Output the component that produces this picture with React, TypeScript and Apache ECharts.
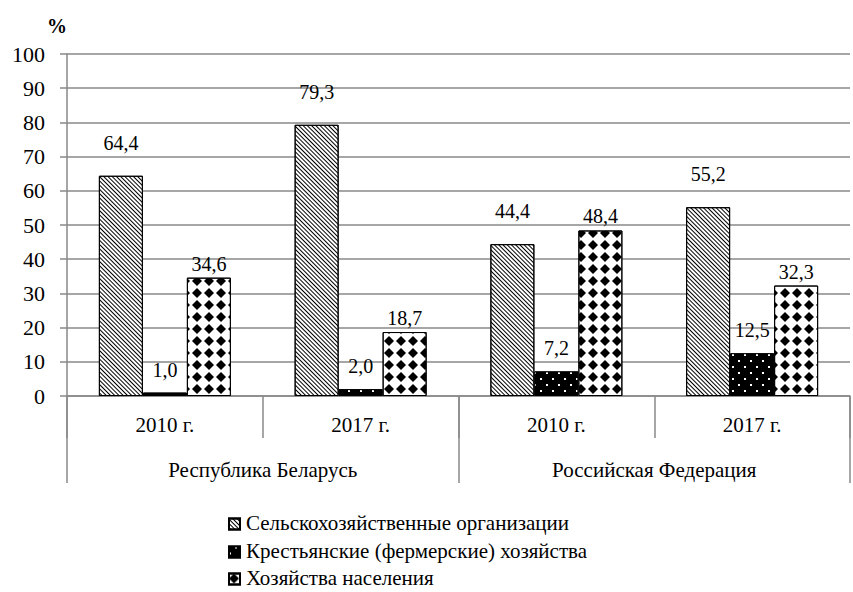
import React, { useEffect, useRef } from "react";
import * as echarts from "echarts";

const yearLabels = ["2010 г.", "2017 г.", "2010 г.", "2017 г."];
const countryLabels = ["Республика Беларусь", "Российская Федерация"];
const seriesNames = [
  "Сельскохозяйственные организации",
  "Крестьянские (фермерские) хозяйства",
  "Хозяйства населения",
];
const agriOrgs = [64.4, 79.3, 44.4, 55.2];
const farms = [1.0, 2.0, 7.2, 12.5];
const households = [34.6, 18.7, 48.4, 32.3];
const yTickValues = [0, 10, 20, 30, 40, 50, 60, 70, 80, 90, 100];
const yUnit = "%";

const FONT = "Liberation Serif";
const BAR_W = 44;

export default function App() {
  const ref = useRef<HTMLDivElement>(null);

  useEffect(() => {
    if (!ref.current) return;
    const chart = echarts.init(ref.current, null, { renderer: "svg" });
    const styles = [
      {
        color: "#fff",
        decal: {
          symbol: "rect",
          symbolSize: 1,
          color: "#000",
          dashArrayX: [1, 0],
          dashArrayY: [1, 2],
          rotation: Math.PI / 4,
        },
      },
      {
        color: "#000",
        decal: {
          symbol: "rect",
          symbolSize: 1,
          color: "#fff",
          dashArrayX: [[2, 10], [0, 6, 2, 4]],
          dashArrayY: [2, 4],
          rotation: 0,
        },
      },
      {
        color: "#fff",
        decal: {
          symbol: "diamond",
          symbolSize: 1,
          color: "#000",
          dashArrayX: [10, 2],
          dashArrayY: [10, 2],
          rotation: 0,
        },
      },
    ];
    const values = [agriOrgs, farms, households];
    const labelOffsets = [33, 23, 14];
    const legendCenters = [523, 551, 578];

    const series = values.map((vals, i) => ({
      name: seriesNames[i],
      type: "bar",
      xAxisIndex: 0,
      yAxisIndex: 0,
      barWidth: BAR_W,
      barGap: "0%",
      data: vals,
      itemStyle: {
        color: styles[i].color,
        decal: styles[i].decal,
        borderColor: "#000",
        borderWidth: 1,
      },
      label: { show: false },
    }));

    const grey = { color: "#888", width: 1.5 };

    chart.setOption({
      animation: false,
      backgroundColor: "#fff",
      aria: { enabled: true, decal: { show: true } },
      grid: { left: 67, right: 3, top: 54, bottom: 196, containLabel: false },
      legend: seriesNames.map((n, i) => ({
        data: [n],
        orient: "vertical",
        left: 228,
        top: legendCenters[i] - 5.5,
        padding: 0,
        itemWidth: 11,
        itemHeight: 11,
        icon: "rect",
        selectedMode: false,
        formatter: () => "",
        textStyle: { fontSize: 1, lineHeight: 1, padding: 0 },
      })),
      xAxis: [
        {
          type: "category",
          data: yearLabels,
          position: "bottom",
          axisLine: { show: true, lineStyle: grey },
          axisTick: { show: true, length: 42, interval: 0, lineStyle: grey },
          axisLabel: { show: false },
          splitLine: { show: false },
        },
        {
          type: "category",
          data: countryLabels,
          position: "bottom",
          axisLine: { show: false },
          axisTick: { show: true, length: 87, interval: 0, lineStyle: grey },
          axisLabel: { show: false },
          splitLine: { show: false },
        },
      ],
      yAxis: {
        type: "value",
        min: yTickValues[0],
        max: yTickValues[yTickValues.length - 1],
        interval: yTickValues[1] - yTickValues[0],
        axisLine: { show: true, lineStyle: grey },
        axisTick: { show: true, length: 7, inside: false, lineStyle: grey },
        axisLabel: { show: false },
        splitLine: { show: true, lineStyle: grey },
      },
      series,
    });

    const yPx = (v: number) => chart.convertToPixel({ yAxisIndex: 0 }, v) as unknown as number;
    const xCat = (i: number) => chart.convertToPixel({ xAxisIndex: 0 }, i) as unknown as number;
    const xGroup = (i: number) => chart.convertToPixel({ xAxisIndex: 1 }, i) as unknown as number;

    const band = xCat(1) - xCat(0);
    const axisX = xCat(0) - band / 2;
    const axisY = yPx(0);

    const mk = (
      text: string,
      x: number,
      y: number,
      size: number,
      align: string,
      extra: any = {}
    ) => ({
      type: "text",
      x,
      y,
      silent: true,
      style: {
        text,
        x: 0,
        y: 0,
        fontFamily: FONT,
        fontSize: size,
        fill: "#000",
        align,
        verticalAlign: "middle",
        ...extra,
      },
    });

    const elements: any[] = [];
    elements.push(mk(yUnit, 57, 26, 20, "center", { fontWeight: "bold" }));
    yTickValues.forEach((v) => {
      elements.push(mk(String(v), axisX - 22, yPx(v), 22, "right"));
    });
    yearLabels.forEach((t, i) => {
      elements.push(mk(t, xCat(i), axisY + 29, 21, "center"));
    });
    countryLabels.forEach((t, i) => {
      elements.push(mk(t, xGroup(i), axisY + 74, 21, "center"));
    });
    values.forEach((vals, s) => {
      vals.forEach((v, j) => {
        const x = xCat(j) + (s - 1) * BAR_W;
        const y = yPx(v) - labelOffsets[s];
        elements.push(mk(v.toFixed(1).replace(".", ","), x, y, 20, "center"));
      });
    });
    seriesNames.forEach((n, i) => {
      elements.push(mk(n, 246, legendCenters[i], 21, "left"));
    });

    chart.setOption({ graphic: elements });

    return () => chart.dispose();
  }, []);

  return (
    <div
      ref={ref}
      style={{ position: "fixed", left: 0, top: 0, width: 853, height: 592 }}
    />
  );
}
